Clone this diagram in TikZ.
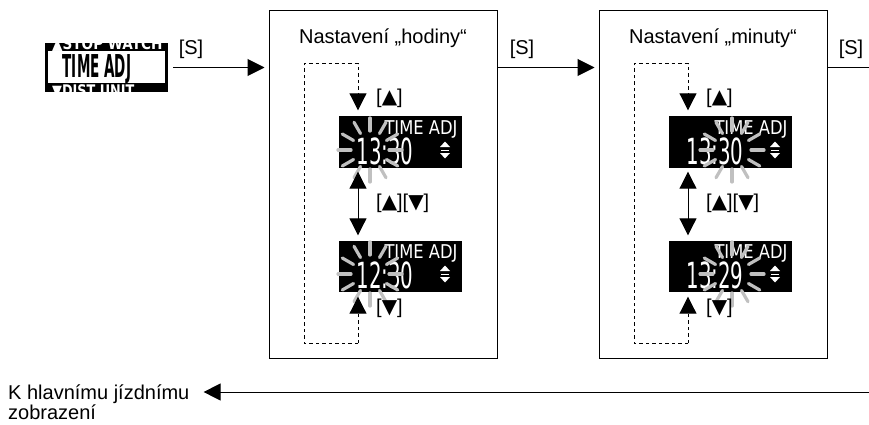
\documentclass[tikz,border=0pt]{standalone}
\usepackage{fontspec}
\usepackage{graphicx}
\setmainfont{Liberation Sans}
\newfontfamily\lcdfont{DejaVu Sans}
\usetikzlibrary{arrows.meta}
\definecolor{raygray}{RGB}{192,192,192}
\newcommand{\keyup}{{\lcdfont ▲}}
\newcommand{\keydown}{{\lcdfont ▼}}

\begin{document}
\begin{tikzpicture}[x=1pt,y=-1pt,
    every node/.style={inner sep=0pt,font=\fontsize{20}{20}\selectfont},
    lcd/.style={fill=black,minimum width=123pt,minimum height=51pt},
    lcdtext/.style={text=white,font=\fontsize{19}{19}\lcdfont},
    lcddigits/.style={text=white,font=\fontsize{36}{36}\lcdfont},
    ray/.style={draw=raygray,line width=3.2pt,line cap=round},
    bigarrow/.style={line width=1pt,-{Triangle[length=17pt,width=17pt]}},
    bigboth/.style={line width=1pt,{Triangle[length=17pt,width=17pt]}-{Triangle[length=17pt,width=17pt]}},
    dashline/.style={line width=0.9pt,dash pattern=on 3.5pt off 3pt}]

  \useasboundingbox (0,0) rectangle (869,425);

  % frames of the two modes
  \begin{scope}[every node/.style={draw,line width=1pt,minimum width=228pt,minimum height=347pt}]
    \node (hbox) at (383,184.5) {};
    \node (mbox) at (713,184.5) {};
  \end{scope}

  \node[anchor=base] (htitle) at (383,44) {Nastavení „hodiny“};
  \node[anchor=base] (mtitle) at (713,44) {Nastavení „minuty“};

  % start screen
  \node[fill=black,minimum width=123pt,minimum height=49pt] (menu) at (106.5,67.5) {};
  \fill[white] (48,51) rectangle (165,83);
  \node[anchor=base,font=\fontsize{31.5}{32}\lcdfont\bfseries] (menutxt) at (97,78) {\scalebox{0.43}[1]{TIME ADJ}};
  \begin{scope}
    \clip (48,43) rectangle (165,51);
    \node[anchor=base west,text=white,font=\fontsize{16}{16}\lcdfont\bfseries] (menuup) at (52,50) {\scalebox{0.85}[1]{▲STOP WATCH}};
  \end{scope}
  \begin{scope}
    \clip (48,83) rectangle (165,92);
    \node[anchor=base west,text=white,font=\fontsize{16}{16}\lcdfont\bfseries] (menudown) at (52,97) {\scalebox{0.8}[1]{▼DIST UNIT}};
  \end{scope}

  % the four screens
  \foreach \n/\cx/\cy/\txt/\bx in {hA/400.5/142/13:30/-30.5, hB/400.5/266/12:30/-30.5,
                                    mA/730.5/142/13:30/1.5, mB/730.5/266/13:29/1.5}{
    \node[lcd] (\n) at (\cx,\cy) {};
    \begin{scope}[shift={(\n.center)}]
      \node[lcdtext,anchor=base] (\n-title) at (20.5,-8) {\scalebox{0.86}[1]{TIME ADJ}};
      \node[lcddigits,anchor=base] (\n-num) at (-15.5,22) {\scalebox{0.55}[1]{\txt}};
      \fill[white] (39.5,5) -- (49.5,5) -- (44.5,-0.5) -- cycle;
      \draw[white,line width=0.8pt] (40.5,8) -- (48.5,8);
      \fill[white] (39.5,11) -- (49.5,11) -- (44.5,16.5) -- cycle;
      \coordinate (\n-burst) at (\bx,8);
      \foreach \ang in {0,30,...,330}
        \draw[ray] ([shift={(\ang:19)}]\n-burst) -- ([shift={(\ang:32)}]\n-burst);
    \end{scope}
  }

  % key loops inside each frame
  \foreach \p/\dx in {h/0,m/330}{
    \begin{scope}[xshift=\dx]
      \coordinate (\p-tl) at (304,64);
      \coordinate (\p-tr) at (358,64);
      \coordinate (\p-bl) at (304,343);
      \coordinate (\p-br) at (358,343);
      \draw[dashline,bigarrow,shorten >=6pt] (\p-br) -- (\p-bl) -- (\p-tl) -- (\p-tr) -- (\p-tr |- \p A.north);
      \draw[dashline,bigarrow,shorten >=5pt] (\p-br) -- (\p-br |- \p B.south);
      \draw[bigboth,shorten <=4pt,shorten >=5pt] (\p-tr |- \p A.south) -- (\p-tr |- \p B.north);
      \node[anchor=west] (\p-keya) at (376,98) {[\keyup]};
      \node[anchor=west] (\p-keyb) at (376,203) {[\keyup][\keydown]};
      \node[anchor=west] (\p-keyc) at (376,308) {[\keydown]};
    \end{scope}
  }

  % [S] steps
  \node[anchor=base] (s1) at (191,55) {[S]};
  \node[anchor=base] (s2) at (522,55) {[S]};
  \node[anchor=base] (s3) at (851,55) {[S]};
  \coordinate (exit) at (869,67.5);
  \draw[bigarrow,shorten <=5pt,shorten >=4pt] (menu.east) -- (hbox.west |- menu.east);
  \draw[bigarrow,shorten >=4pt] (hbox.east |- menu.east) -- (mbox.west |- menu.east);
  \draw[line width=1pt] (mbox.east |- exit) -- (exit);

  % back to main display
  \node[anchor=north west,align=left] (back) at (8,385) {K hlavnímu jízdnímu\\zobrazení};
  \coordinate (backr) at (869,392);
  \draw[bigarrow,shorten >=14pt] (backr) -- (back.east |- backr);

\end{tikzpicture}
\end{document}
